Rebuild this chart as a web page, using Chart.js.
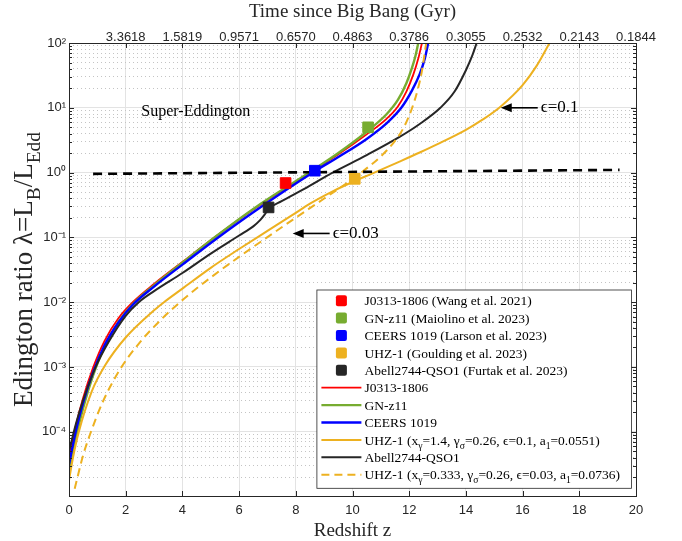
<!DOCTYPE html>
<html>
<head>
<meta charset="utf-8">
<title>Edington ratio vs redshift</title>
<script src="https://cdn.jsdelivr.net/npm/chart.js@4.4.1/dist/chart.umd.min.js"></script>
<style>
  html, body { margin: 0; padding: 0; background: #fff; }
</style>
</head>
<body>
<canvas id="eddChart" width="682" height="541"></canvas>
<script>
"use strict";

// model curves: redshift z and Edington ratio lambda
var zJ0313 = [0, 0.25, 0.5, 0.85, 1.25, 1.75, 2.25, 3, 4, 5.2, 6.5, 8.5, 9.5, 10.5, 11.2, 11.6, 11.9, 12.15, 12.32, 12.45];
var lamJ0313 = [3.98e-5, 1.29e-4, 3.35e-4, 9.77e-4, 2.51e-3, 5.69e-3, 0.0100, 0.0191, 0.0417, 0.105, 0.269, 1.00, 1.91, 3.89, 6.76, 10.5, 17.8, 33.1, 57.5, 100];

var zGNz11 = [0, 0.25, 0.5, 0.85, 1.25, 1.75, 2.25, 3, 4, 5.2, 6.5, 8.5, 9.5, 10.5, 11.2, 11.6, 11.9, 12.1, 12.22, 12.32];
var lamGNz11 = [2.40e-5, 8.32e-5, 2.34e-4, 7.41e-4, 2.04e-3, 5.01e-3, 9.33e-3, 0.0182, 0.0407, 0.105, 0.275, 1.02, 2.00, 4.27, 7.94, 13.2, 24.0, 41.7, 63.1, 100];

var zCEERS = [0, 0.25, 0.5, 0.85, 1.25, 1.75, 2.25, 3, 4, 5.2, 6.5, 8.67, 9.5, 10.5, 11.2, 11.72, 12.1, 12.37, 12.55, 12.67];
var lamCEERS = [3.16e-5, 1.07e-4, 2.82e-4, 8.32e-4, 2.14e-3, 4.90e-3, 9.12e-3, 0.0174, 0.0380, 0.0955, 0.245, 1.05, 1.74, 3.31, 5.75, 10.0, 18.6, 33.1, 57.5, 100];

var zUHZ1 = [0, 0.15, 0.34, 0.8, 1.28, 2, 3, 3.35, 4, 5, 6, 7, 7.9, 8.5, 9.3, 10.08, 10.67, 11.66, 12.37, 13, 14, 14.6, 15.23, 16, 16.5, 16.95];
var lamUHZ1 = [1.78e-5, 4.17e-5, 9.77e-5, 4.17e-4, 1.07e-3, 2.85e-3, 7.50e-3, 0.0100, 0.0162, 0.0339, 0.0661, 0.126, 0.224, 0.331, 0.513, 0.741, 0.955, 1.48, 2.04, 2.75, 4.57, 6.61, 10.5, 22.4, 44.7, 100];

var zAbell = [0, 0.25, 0.5, 0.93, 1.4, 2, 2.46, 3, 4, 5, 6, 6.5, 6.75, 6.9, 7.04, 7.5, 8.3, 9.3, 10.5, 11.66, 12.37, 13.1, 13.6, 14.0, 14.22, 14.38];
var lamAbell = [5.01e-5, 1.35e-4, 3.09e-4, 9.77e-4, 2.45e-3, 6.17e-3, 0.0100, 0.0148, 0.0282, 0.0562, 0.107, 0.148, 0.186, 0.224, 0.275, 0.363, 0.562, 1.00, 1.86, 3.55, 5.62, 10.0, 17.8, 38.0, 63.1, 100];

var zUHZ1b = [0.2, 0.5, 0.75, 1.2, 1.81, 2.5, 3.2, 3.97, 5, 6, 7, 7.9, 9, 10, 10.37, 11, 11.5, 11.8, 12.08, 12.3, 12.45, 12.6];
var lamUHZ1b = [1.32e-5, 4.37e-5, 9.33e-5, 2.95e-4, 9.33e-4, 2.40e-3, 5.13e-3, 0.0105, 0.0240, 0.0501, 0.101, 0.188, 0.398, 0.794, 1.05, 1.78, 3.09, 4.90, 9.33, 19.1, 37.2, 100];

// Eddington limit line (drawn slightly tilted in the figure)
var zEdd = [0.85, 19.42];
var lamEdd = [0.955, 1.10];

// observed sources
var obsNames = ["J0313-1806 (Wang et al. 2021)", "GN-z11 (Maiolino et al. 2023)", "CEERS 1019 (Larson et al. 2023)", "UHZ-1 (Goulding et al. 2023)", "Abell2744-QSO1 (Furtak et al. 2023)"];
var obsZ = [7.64, 10.55, 8.67, 10.08, 7.04];
var obsLam = [0.69, 5.0, 1.07, 0.80, 0.29];

// top axis: age of the universe at z = 2, 4, ..., 20
var ageTicks = ["3.3618", "1.5819", "0.9571", "0.6570", "0.4863", "0.3786", "0.3055", "0.2532", "0.2143", "0.1844"];

var RED = "#ff0000", GREEN = "#77ac30", BLUE = "#0000ff", YELLOW = "#edb120", BLACK = "#262626";
var obsColors = [RED, GREEN, BLUE, YELLOW, BLACK];
var SERIF = "'Liberation Serif', 'Times New Roman', serif";
var SANS = "'Liberation Sans', Arial, sans-serif";

function pts(zs, ls) {
    return zs.map(function(z, i) { return { x: z, y: ls[i] }; });
}

function sup(n) {
    var m = { "-": "\u207b", "0": "\u2070", "1": "\u00b9", "2": "\u00b2", "3": "\u00b3", "4": "\u2074", "5": "\u2075", "6": "\u2076", "7": "\u2077", "8": "\u2078", "9": "\u2079" };
    return String(n).split("").map(function(c) { return m[c]; }).join("");
}

// draws text where _{...} is a subscript; returns the end x
function richText(ctx, str, x, y, size, draw) {
    var parts = str.split(/(_\{[^}]*\})/);
    parts.forEach(function(p) {
        if (!p) return;
        var sub = p.indexOf("_{") === 0;
        var t = sub ? p.slice(2, -1) : p;
        ctx.font = (sub ? size * 0.72 : size) + "px " + SERIF;
        if (draw) ctx.fillText(t, x, y + (sub ? size * 0.3 : 0));
        x += ctx.measureText(t).width;
    });
    return x;
}

function lineSet(label, text, zs, ls, color, width, order, dash) {
    return {
        label: label,
        legendText: text,
        data: pts(zs, ls),
        borderColor: color,
        backgroundColor: color,
        borderWidth: width,
        borderDash: dash || [],
        pointRadius: 0,
        pointHitRadius: 0,
        cubicInterpolationMode: "monotone",
        fill: false,
        order: order
    };
}

var datasets = obsNames.map(function(name, i) {
    return {
        label: name,
        legendText: name,
        data: [{ x: obsZ[i], y: obsLam[i] }],
        showLine: false,
        pointStyle: "rect",
        pointRadius: 7.5,
        pointBackgroundColor: obsColors[i],
        pointBorderColor: obsColors[i],
        borderColor: obsColors[i],
        order: 0
    };
});
datasets.push(lineSet("J0313-1806", "J0313-1806", zJ0313, lamJ0313, RED, 1.8, 7));
datasets.push(lineSet("GN-z11", "GN-z11", zGNz11, lamGNz11, GREEN, 2.4, 6));
datasets.push(lineSet("CEERS 1019", "CEERS 1019", zCEERS, lamCEERS, BLUE, 2.4, 5));
datasets.push(lineSet("UHZ-1 (x=1.4)", "UHZ-1 (x_{\u03b3}=1.4, \u03b3_{\u03c3}=0.26, \u03f5=0.1, a_{1}=0.0551)", zUHZ1, lamUHZ1, YELLOW, 2, 4));
datasets.push(lineSet("Abell2744-QSO1", "Abell2744-QSO1", zAbell, lamAbell, BLACK, 2, 3));
datasets.push(lineSet("UHZ-1 (x=0.333)", "UHZ-1 (x_{\u03b3}=0.333, \u03b3_{\u03c3}=0.26, \u03f5=0.03, a_{1}=0.0736)", zUHZ1b, lamUHZ1b, YELLOW, 2, 2, [8, 5]));
datasets.push(lineSet("Eddington limit", null, zEdd, lamEdd, "#000000", 2.6, 1, [9, 6]));

// text labels placed in data coordinates
var notes = [
    { text: "Super-Eddington", z: 2.55, lam: 8.8, arrowTo: null },
    { text: "\u03f5=0.1", z: 16.64, lam: 10, arrowTo: 15.23 },
    { text: "\u03f5=0.03", z: 9.3, lam: 0.115, arrowTo: 7.89 }
];

var notesPlugin = {
    id: "notes",
    afterDatasetsDraw: function(chart) {
        var ctx = chart.ctx, sx = chart.scales.x, sy = chart.scales.y;
        ctx.save();
        ctx.fillStyle = "#000";
        ctx.strokeStyle = "#000";
        ctx.textBaseline = "middle";
        notes.forEach(function(n) {
            var px = sx.getPixelForValue(n.z), py = sy.getPixelForValue(n.lam);
            ctx.font = (n.arrowTo === null ? 16 : 17) + "px " + SERIF;
            ctx.fillText(n.text, px, py);
            if (n.arrowTo !== null) {
                var tip = sx.getPixelForValue(n.arrowTo);
                ctx.lineWidth = 1.6;
                ctx.beginPath();
                ctx.moveTo(px - 3, py);
                ctx.lineTo(tip + 8, py);
                ctx.stroke();
                ctx.beginPath();
                ctx.moveTo(tip, py);
                ctx.lineTo(tip + 11, py - 4.5);
                ctx.lineTo(tip + 11, py + 4.5);
                ctx.closePath();
                ctx.fill();
            }
        });
        ctx.restore();
    }
};

// axes box with inward tick marks, like the original plot
var boxPlugin = {
    id: "axesBox",
    afterDatasetsDraw: function(chart) {
        var ctx = chart.ctx, a = chart.chartArea, s = chart.scales;
        ctx.save();
        ctx.strokeStyle = BLACK;
        ctx.lineWidth = 1;
        ctx.beginPath();
        s.x.ticks.forEach(function(t) {
            var px = Math.round(s.x.getPixelForValue(t.value)) + 0.5;
            ctx.moveTo(px, a.bottom); ctx.lineTo(px, a.bottom - 5);
            ctx.moveTo(px, a.top); ctx.lineTo(px, a.top + 5);
        });
        [[s.y, 5], [s.yMinor, 3]].forEach(function(p) {
            p[0].ticks.forEach(function(t) {
                var py = Math.round(p[0].getPixelForValue(t.value)) + 0.5;
                ctx.moveTo(a.left, py); ctx.lineTo(a.left + p[1], py);
                ctx.moveTo(a.right, py); ctx.lineTo(a.right - p[1], py);
            });
        });
        ctx.stroke();
        ctx.strokeRect(Math.round(a.left) + 0.5, Math.round(a.top) + 0.5, Math.round(a.right - a.left), Math.round(a.bottom - a.top));
        ctx.restore();
    }
};

var legendPlugin = {
    id: "boxLegend",
    afterDraw: function(chart) {
        var ctx = chart.ctx, a = chart.chartArea;
        var items = chart.data.datasets.filter(function(d) { return d.legendText; });
        var rowH = 17.4, w = 314.5;
        var h = 10.7 + (items.length - 1) * rowH + 13.6;
        var right = a.right - 4.6, bottom = a.bottom - 7.7;
        var left = right - w, top = bottom - h;
        ctx.save();
        ctx.fillStyle = "#fff";
        ctx.fillRect(left, top, w, h);
        ctx.strokeStyle = BLACK;
        ctx.lineWidth = 0.8;
        ctx.strokeRect(left, top, w, h);
        items.forEach(function(d, i) {
            var cy = top + 10.7 + i * rowH;
            if (d.showLine === false) {
                ctx.fillStyle = d.pointBackgroundColor;
                ctx.beginPath();
                ctx.roundRect(left + 19, cy - 5.5, 11, 11, 2);
                ctx.fill();
            } else {
                ctx.strokeStyle = d.borderColor;
                ctx.lineWidth = d.borderWidth;
                ctx.setLineDash(d.borderDash);
                ctx.beginPath();
                ctx.moveTo(left + 4.5, cy);
                ctx.lineTo(left + 44.5, cy);
                ctx.stroke();
                ctx.setLineDash([]);
            }
            ctx.fillStyle = "#000";
            ctx.textBaseline = "alphabetic";
            richText(ctx, d.legendText, left + 47.7, cy + 4.6, 13.5, true);
        });
        ctx.restore();
    }
};

var yTitlePlugin = {
    id: "yTitle",
    afterDraw: function(chart) {
        var ctx = chart.ctx, a = chart.chartArea;
        var txt = "Edington ratio \u03bb=L_{B}/L_{Edd}";
        var size = 27;
        ctx.save();
        ctx.translate(23, (a.top + a.bottom) / 2);
        ctx.rotate(-Math.PI / 2);
        ctx.fillStyle = BLACK;
        ctx.textBaseline = "alphabetic";
        var wTxt = richText(ctx, txt, 0, 0, size, false);
        richText(ctx, txt, -wTxt / 2, size * 0.33, size, true);
        ctx.restore();
    }
};

Chart.defaults.font.family = SANS;
Chart.defaults.color = BLACK;

new Chart(document.getElementById("eddChart"), {
    type: "line",
    data: { datasets: datasets },
    plugins: [notesPlugin, boxPlugin, legendPlugin, yTitlePlugin],
    options: {
        responsive: false,
        animation: false,
        layout: { padding: { left: 0, right: 46, top: 0, bottom: 0 } },
        plugins: {
            legend: { display: false },
            tooltip: { enabled: false }
        },
        scales: {
            x: {
                type: "linear",
                position: "bottom",
                min: 0,
                max: 20,
                ticks: { stepSize: 2, padding: 7, maxRotation: 0, font: { size: 13 } },
                grid: { color: "#e3e3e3", drawTicks: false },
                border: { display: false },
                title: { display: true, text: "Redshift z", font: { family: SERIF, size: 19 }, padding: { top: 0, bottom: -1 } },
                afterFit: function(s) { s.height = 45; }
            },
            x2: {
                type: "linear",
                position: "top",
                min: 0,
                max: 20,
                ticks: {
                    stepSize: 2,
                    padding: -2,
                    autoSkip: false,
                    maxRotation: 0,
                    font: { size: 13 },
                    callback: function(v) { return v === 0 ? "" : ageTicks[v / 2 - 1]; }
                },
                grid: { display: false, drawTicks: false },
                border: { display: false },
                title: { display: true, text: "Time since Big Bang (Gyr)", font: { family: SERIF, size: 19 }, padding: { top: 1, bottom: 0 } },
                afterFit: function(s) { s.height = 43; }
            },
            y: {
                type: "logarithmic",
                position: "left",
                min: 1.02e-5,
                max: 100,
                afterBuildTicks: function(s) {
                    var t = [];
                    for (var e = -4; e <= 2; e++) t.push({ value: Math.pow(10, e) });
                    s.ticks = t;
                },
                ticks: {
                    padding: 3,
                    font: { size: 13 },
                    callback: function(v) { return "10" + sup(Math.round(Math.log10(v))); }
                },
                grid: { color: "#e3e3e3", drawTicks: false },
                border: { display: false },
                afterFit: function(s) { s.width = 69; }
            },
            yMinor: {
                type: "logarithmic",
                position: "left",
                min: 1.02e-5,
                max: 100,
                afterBuildTicks: function(s) {
                    var t = [];
                    for (var e = -5; e <= 1; e++) {
                        for (var k = 2; k <= 9; k++) {
                            var v = k * Math.pow(10, e);
                            if (v >= s.min && v <= s.max) t.push({ value: v });
                        }
                    }
                    s.ticks = t;
                },
                ticks: { display: false },
                grid: { color: "#c4c4c4", drawTicks: false },
                border: { display: false, dash: [1, 3] },
                afterFit: function(s) { s.width = 0; }
            }
        }
    }
});
</script>
</body>
</html>
